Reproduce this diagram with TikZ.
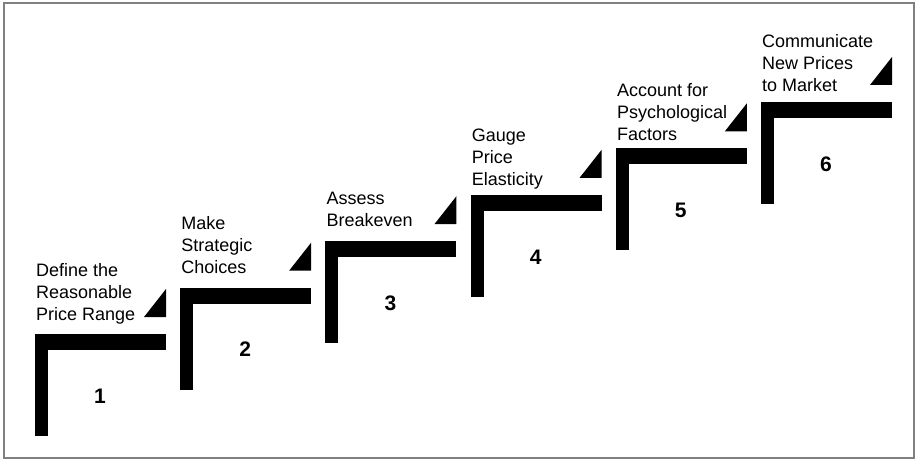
\documentclass[tikz,border=0pt]{standalone}
\usepackage{fontspec}
\setmainfont{Liberation Sans}
\begin{document}
\begin{tikzpicture}[x=1pt,y=-1pt,
  bar/.style={fill=black,draw=none},
  steplabel/.style={anchor=base west,inner sep=0pt,align=left,font=\fontsize{18}{22}\selectfont},
  stepnum/.style={inner sep=0pt,font=\fontsize{21}{24}\selectfont\bfseries}]
\useasboundingbox (0,0) rectangle (916,460);
\draw[draw=black!50,line width=1.8pt] (4,3) rectangle (914,458);
\foreach \i/\by/\txt in {1/320/{Define the\\Reasonable\\Price Range},
                     2/273/{Make\\Strategic\\Choices},
                     3/226/{Assess\\Breakeven},
                     4/185/{Gauge\\Price\\Elasticity},
                     5/140/{Account for\\Psychological\\Factors},
                     6/92/{Communicate\\New Prices\\to Market}}{
  \pgfmathsetmacro{\L}{35+145.2*(\i-1)}
  \pgfmathsetmacro{\T}{334-46.4*(\i-1)}
  \fill[bar] (\L,\T) rectangle ++(131,16);
  \fill[bar] (\L,\T) rectangle ++(13,102);
  \fill[bar] (\L+109,\T-17) -- (\L+131,\T-17) -- (\L+131,\T-45) -- cycle;
  \node[steplabel] (t\i) at (\L+1,\by) {\txt};
  \node[stepnum] (n\i) at (\L+65,\T+62) {\i};
}
\end{tikzpicture}
\end{document}
